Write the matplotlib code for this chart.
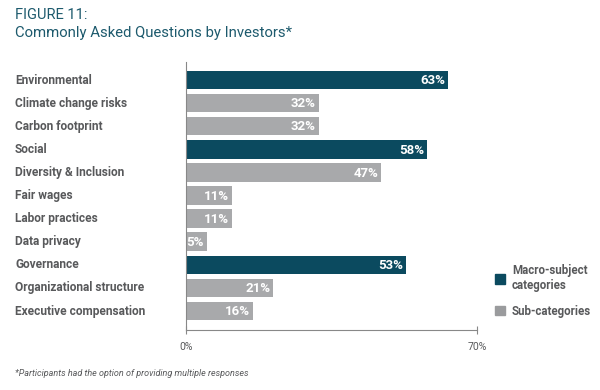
import matplotlib
matplotlib.use("Agg")
import matplotlib.pyplot as plt
import matplotlib.transforms as mtransforms
from matplotlib.patches import Patch

categories = ["Environmental", "Climate change risks", "Carbon footprint", "Social",
              "Diversity & Inclusion", "Fair wages", "Labor practices", "Data privacy",
              "Governance", "Organizational structure", "Executive compensation"]
values = [63, 32, 32, 58, 47, 11, 11, 5, 53, 21, 16]
is_macro = [True, False, False, True, False, False, False, False, True, False, False]
x_ticks = [0, 70]
x_tick_labels = ["0%", "70%"]

DARK = "#0b4a5f"
GRAY = "#a8a9ab"
TEXT = "#58595b"
TITLE = "#1d5a6d"

plt.rcParams["font.family"] = ["Roboto", "DejaVu Sans"]

fig = plt.figure(figsize=(6, 3.9), dpi=100)
ax = fig.add_axes([0.31, 0.154, 0.485, 0.687])

colors = [DARK if m else GRAY for m in is_macro]
ypos = list(range(len(categories)))
ax.barh(ypos, values, height=0.8, color=colors)

ax.set_ylim(len(categories) - 0.18, -0.78)

for y, v in zip(ypos, values):
    ax.text(v - 0.7, y + 0.03, f"{v}%", ha="right", va="center",
            color="white", fontsize=9.5, fontweight="bold")

# category labels at the left edge of the figure
trans = mtransforms.blended_transform_factory(fig.transFigure, ax.transData)
for y, c in zip(ypos, categories):
    ax.text(0.025, y, c, transform=trans, ha="left", va="center",
            color=TEXT, fontsize=8.6, fontweight="bold")

for s in ["top", "right"]:
    ax.spines[s].set_visible(False)
for s in ["left", "bottom"]:
    ax.spines[s].set_color("#888888")
    ax.spines[s].set_linewidth(0.8)
ax.set_yticks([])
ax.set_xlim(0, 70)
ax.set_xticks(x_ticks)
ax.set_xticklabels(x_tick_labels, color=TEXT, fontsize=7.5)
ax.tick_params(axis="x", direction="inout", length=6, color="#888888", pad=6)

fig.text(0.025, 0.962, "FIGURE 11:", color=TITLE, fontsize=10.5, va="center")
fig.text(0.025, 0.915, "Commonly Asked Questions by Investors*", color=TITLE,
         fontsize=10.7, va="center")
fig.text(0.025, 0.043, "*Participants had the option of providing multiple responses",
         color=TEXT, fontsize=6.5, style="italic", va="center")

handles = [Patch(color=DARK, label="Macro-subject\ncategories"),
           Patch(color="#9a9b9d", label="Sub-categories")]
fig.legend(handles=handles, loc="upper left", bbox_to_anchor=(0.807, 0.35),
           frameon=False, handlelength=0.9, handleheight=0.9,
           handletextpad=0.6, labelspacing=1.1, labelcolor=TEXT,
           prop={"weight": "bold", "size": 8.3})

fig.savefig("out.png", dpi=100)
